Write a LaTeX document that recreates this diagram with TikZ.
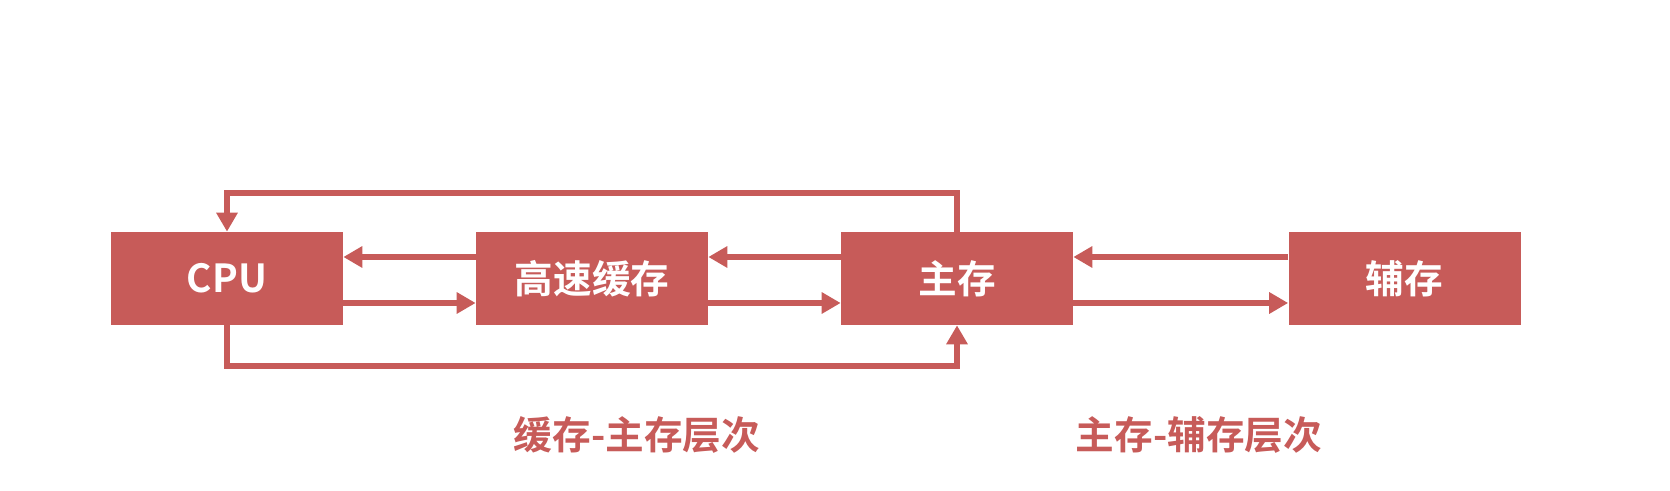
\documentclass[tikz,border=0pt]{standalone}
\usepackage{fontspec}
\setmainfont{Noto Sans CJK SC}[BoldFont={Noto Sans CJK SC Bold}]
\usepackage{xcolor}
\usepackage{tikz}
\usetikzlibrary{arrows.meta,positioning,calc}
\definecolor{redc}{HTML}{C75B59}

\begin{document}
\begin{tikzpicture}[
  font=\bfseries\fontsize{22}{26}\selectfont,
  bx/.style  ={fill=redc, text=white, minimum width=4.64cm, minimum height=1.86cm, inner sep=0pt},
  ar/.style  ={-{Triangle[length=3.8mm, width=4.1mm]}, redc, line width=3.3pt},
  lbl/.style ={text=redc}
]
\useasboundingbox (0,0) rectangle (33.4,9.82);
% ---------- storage boxes ----------
\node[bx] (cpu)   at (4.54,4.25)  {CPU};
\node[bx] (cache) at (11.84,4.25) {高速缓存};
\node[bx] (mem)   at (19.14,4.25) {主存};
\node[bx] (aux)   at (28.09,4.25) {辅存};

% ---------- neighbour links ----------
\draw[ar] ([yshift=4.3mm]cache.west) -- ([yshift=4.3mm]cpu.east);
\draw[ar] ([yshift=-4.9mm]cpu.east) -- ([yshift=-4.9mm]cache.west);
\draw[ar] ([yshift=4.3mm]mem.west) -- ([yshift=4.3mm]cache.east);
\draw[ar] ([yshift=-4.9mm]cache.east) -- ([yshift=-4.9mm]mem.west);
\draw[ar] ([yshift=4.3mm]aux.west) -- ([yshift=4.3mm]mem.east);
\draw[ar] ([yshift=-4.9mm]mem.east) -- ([yshift=-4.9mm]aux.west);

% ---------- bypass loops ----------
\draw[ar] (mem.north) -- ++(0,0.78) -| (cpu.north);
\draw[ar] (cpu.south) -- ++(0,-0.82) -| (mem.south);

% ---------- level labels ----------
\node[lbl] (lv1) at (12.74,1.13) {缓存-主存层次};
\node[lbl] (lv2) at (23.98,1.13) {主存-辅存层次};
\end{tikzpicture}
\end{document}
